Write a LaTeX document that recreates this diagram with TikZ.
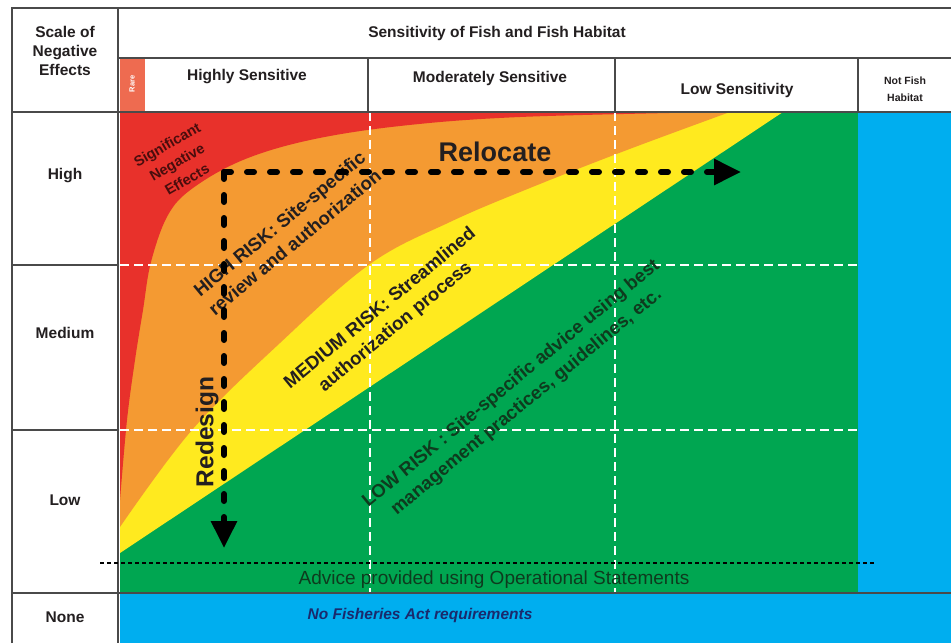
\documentclass[tikz,border=0pt]{standalone}
\usepackage{fontspec}
\setmainfont{Liberation Sans}
\usetikzlibrary{arrows.meta}
\definecolor{cRed}{HTML}{E8312B}
\definecolor{cOrange}{HTML}{F49A32}
\definecolor{cYellow}{HTML}{FFEA1F}
\definecolor{cGreen}{HTML}{00A651}
\definecolor{cBlue}{HTML}{00AEEF}
\definecolor{cRare}{HTML}{EE6B50}
\definecolor{cLine}{HTML}{4A4A4A}
\definecolor{cDarkRed}{HTML}{4A0D0D}
\definecolor{cInk}{HTML}{231F20}
\definecolor{cGreenInk}{HTML}{0E3B1E}
\definecolor{cNavy}{HTML}{1A2A6C}
\begin{document}
\begin{tikzpicture}[x=1pt,y=-1pt,
  hdr/.style={font=\bfseries\fontsize{15.5}{19}\selectfont, text=cInk, inner sep=0pt, align=center},
  small/.style={font=\bfseries\fontsize{10.5}{17}\selectfont, text=cInk, inner sep=0pt, align=center},
  gridline/.style={white, line width=2.4pt, dash pattern=on 9pt off 5pt},
  frame/.style={cLine, line width=1.8pt},
  risk/.style={font=\bfseries\fontsize{18.5}{24}\selectfont, align=center, rotate=39.5, inner sep=0pt},
  move/.style={line width=6pt, dash pattern=on 7pt off 16pt, line cap=round, -{Triangle[width=25pt,length=27pt]}},
  bigword/.style={font=\bfseries\fontsize{26}{30}\selectfont, text=cInk, inner sep=0pt}]
\useasboundingbox (0,0) rectangle (951,643);
\fill[white] (0,0) rectangle (951,643);
% colour regions
\begin{scope}
\clip (120,112) rectangle (858,593);
\fill[cGreen] (120,112) rectangle (858,593);
\fill[cYellow] (120,553) -- (783,112) -- (120,112) -- cycle;
\fill[cOrange] plot[smooth, tension=0.6] coordinates {(120,527) (192,430) (280,343) (370,264) (450,222) (530,188) (627,150) (730,112)} -- (120,112) -- cycle;
\fill[cRed] plot[smooth, tension=0.6] coordinates {(120,500) (127,420) (135,360) (143,310) (151,262) (168,215) (193,188) (243,160) (310,140) (400,126) (520,117) (720,112)} -- (120,112) -- cycle;
\end{scope}
\fill[cBlue] (858,112) rectangle (951,643);
\fill[cBlue] (120,593) rectangle (951,643);
\fill[cRare] (120,58) rectangle (145,112);
% grid
\draw[gridline] (120,265) -- (858,265);
\draw[gridline] (120,430) -- (858,430);
\draw[gridline] (370,112) -- (370,593);
\draw[gridline] (615,112) -- (615,593);
% table frame
\draw[frame] (12,643) -- (12,8) -- (951,8);
\draw[frame] (118,8) -- (118,643);
\draw[frame] (118,58) -- (951,58);
\draw[frame] (12,112) -- (951,112);
\draw[frame] (368,58) -- (368,112);
\draw[frame] (615,58) -- (615,112);
\draw[frame] (858,58) -- (858,112);
\draw[frame] (12,265) -- (118,265);
\draw[frame] (12,430) -- (118,430);
\draw[frame] (12,593) -- (951,593);
% operational statements threshold
\coordinate (thrA) at (100,563);
\coordinate (thrB) at (876,563);
\draw[black, line width=1.3pt, dash pattern=on 4pt off 3pt] (thrA) -- (thrB);
% header texts
\node[hdr] (scale) at (65,51) {Scale of\\Negative\\Effects};
\node[hdr] (sens) at (497,33) {Sensitivity of Fish and Fish Habitat};
\node[hdr] (hs) at (247,77) {Highly Sensitive};
\node[hdr] (ms) at (490,78) {Moderately Sensitive};
\node[hdr] (ls) at (737,90) {Low Sensitivity};
\node[small] (nfh) at (905,89) {Not Fish\\Habitat};
\node[font=\bfseries\fontsize{7.5}{8}\selectfont, text=white, rotate=90, inner sep=0pt] (rare) at (132,84) {Rare};
\node[hdr] (high) at (65,176) {High};
\node[hdr] (medium) at (65,333) {Medium};
\node[hdr] (low) at (65,500) {Low};
\node[hdr] (none) at (65,617) {None};
% zone labels
\node[font=\bfseries\fontsize{14.5}{20}\selectfont, text=cDarkRed, align=center, rotate=30, inner sep=0pt] (sig) at (177,162) {Significant\\Negative\\Effects};
\node[risk, text=cInk] (hr) at (287,233) {HIGH RISK: Site-specific\\review and authorization};
\node[risk, text=cInk] (mr) at (388,318) {MEDIUM RISK: Streamlined\\authorization process};
\node[risk, text=cGreenInk] (lr) at (519,393) {LOW RISK : Site-specific advice using best\\management practices, guidelines, etc.};
\node[font=\fontsize{19}{22}\selectfont, text=cGreenInk, inner sep=0pt] (adv) at (494,580) {Advice provided using Operational Statements};
\node[font=\bfseries\itshape\fontsize{15.5}{18}\selectfont, text=cNavy, inner sep=0pt] (nofa) at (420,615) {No Fisheries Act requirements};
% moves
\coordinate (corner) at (224,172);
\coordinate (relocEnd) at (741,172);
\coordinate (redesEnd) at (224,548);
\draw[move] (corner) -- (relocEnd);
\draw[move] (corner) -- (redesEnd);
\node[bigword, font=\bfseries\fontsize{27}{30}\selectfont] (reloc) at (495,152) {Relocate};
\node[bigword, font=\bfseries\fontsize{24.5}{28}\selectfont, rotate=90] (redes) at (207,432) {Redesign};
\end{tikzpicture}
\end{document}
